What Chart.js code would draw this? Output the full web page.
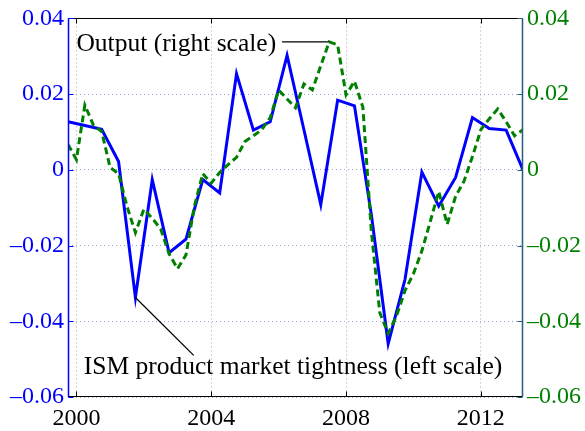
<!DOCTYPE html>
<html>
<head>
<meta charset="utf-8">
<script src="https://cdn.jsdelivr.net/npm/chart.js@4"></script>
<style>
  html, body { margin: 0; padding: 0; background: #fff; }
</style>
</head>
<body>
<canvas id="graph" width="585" height="431"></canvas>
<script>
// quarterly output (right scale)
const outputDates = [1999.75, 2000, 2000.25, 2000.5, 2000.75, 2001, 2001.25, 2001.5, 2001.75,
  2002, 2002.25, 2002.5, 2002.75, 2003, 2003.25, 2003.5, 2003.75, 2004, 2004.25, 2004.5, 2004.75,
  2005, 2005.25, 2005.5, 2005.75, 2006, 2006.25, 2006.5, 2006.75, 2007, 2007.25, 2007.5, 2007.75,
  2008, 2008.25, 2008.5, 2008.75, 2009, 2009.25, 2009.5, 2009.75, 2010, 2010.25, 2010.5, 2010.75,
  2011, 2011.25, 2011.5, 2011.75, 2012, 2012.25, 2012.5, 2012.75, 2013, 2013.25];
const outputValues = [0.0067, 0.0027, 0.0171, 0.0119, 0.0101, 0.0006, -0.0010, -0.0096, -0.0166,
  -0.0104, -0.0128, -0.0156, -0.0222, -0.0261, -0.0225, -0.0096, -0.0010, -0.0035, -0.0007, 0.0014, 0.0033,
  0.0075, 0.0090, 0.0106, 0.0138, 0.0211, 0.0187, 0.0164, 0.0227, 0.0211, 0.0275, 0.0338, 0.0330,
  0.0198, 0.0234, 0.0165, -0.0162, -0.0377, -0.0432, -0.0385, -0.0319, -0.0274, -0.0214, -0.0136, -0.0057,
  -0.0144, -0.0070, -0.0030, 0.0035, 0.0106, 0.0135, 0.0161, 0.0127, 0.0090, 0.0106];

// half-yearly ISM tightness (left scale)
const ismDates = [1999.75, 2000.25, 2000.75, 2001.25, 2001.75, 2002.25, 2002.75, 2003.25, 2003.75,
  2004.25, 2004.75, 2005.25, 2005.75, 2006.25, 2006.75, 2007.25, 2007.75, 2008.25, 2008.75,
  2009.25, 2009.75, 2010.25, 2010.75, 2011.25, 2011.75, 2012.25, 2012.75, 2013.25];
const ismValues = [0.0127, 0.0117, 0.0107, 0.0022, -0.0337, -0.0026, -0.0219, -0.0183, -0.0026,
  -0.0061, 0.0254, 0.0105, 0.0127, 0.0302, 0.0106, -0.0092, 0.0184, 0.0169, -0.0118,
  -0.0459, -0.0289, -0.0006, -0.0096, -0.0020, 0.0138, 0.0109, 0.0105, 0.0000];

const yearTicks = [2000, 2004, 2008, 2012];
const valueTicks = [-0.06, -0.04, -0.02, 0, 0.02, 0.04];

const FONT = "'Liberation Serif', 'Times New Roman', serif";
const BLUE = '#0000ff';
const GREEN = '#008000';
const RIGHT_AXIS = '#235e7c';

function fmt(v) {
  if (Math.abs(v) < 1e-9) return '0';
  return (v < 0 ? '\u2013' : '') + Math.abs(v).toFixed(2);
}

function pts(xs, ys) {
  return xs.map((x, i) => ({ x: x, y: ys[i] }));
}

// frame, inward ticks and the two text notes
const extras = {
  id: 'extras',
  afterDatasetsDraw(chart) {
    const { ctx, chartArea: a, scales } = chart;
    const x = scales.x, yl = scales.y, yr = scales.y2;
    ctx.save();
    ctx.lineWidth = 1;
    const line = (x1, y1, x2, y2, c) => {
      ctx.strokeStyle = c;
      ctx.beginPath(); ctx.moveTo(x1, y1); ctx.lineTo(x2, y2); ctx.stroke();
    };
    const L = Math.round(a.left) + 0.5, R = Math.round(a.right) - 0.5;
    const T = Math.round(a.top) + 0.5, B = Math.round(a.bottom) - 0.5;
    line(L, T, R, T, '#000');
    line(L, B, R, B, '#000');
    valueTicks.forEach(v => {
      const py = Math.round(yl.getPixelForValue(v)) + 0.5;
      line(L, py, L + 5, py, BLUE);
      line(R, py, R - 5, py, RIGHT_AXIS);
    });
    yearTicks.forEach(v => {
      const px = Math.round(x.getPixelForValue(v)) + 0.5;
      line(px, B, px, B - 5, '#000');
      line(px, T, px, T + 5, '#000');
    });
    ctx.lineWidth = 1.5;
    line(L, a.top, L, a.bottom, BLUE);
    line(R, a.top, R, a.bottom, RIGHT_AXIS);

    // notes
    ctx.lineWidth = 1.3;
    ctx.fillStyle = '#000';
    ctx.font = '25.5px ' + FONT;
    ctx.textBaseline = 'middle';
    ctx.textAlign = 'left';
    ctx.fillText('Output (right scale)', x.getPixelForValue(2000.0), yr.getPixelForValue(0.0331));
    line(x.getPixelForValue(2006.1), yr.getPixelForValue(0.0338),
         x.getPixelForValue(2007.5), yr.getPixelForValue(0.0338), '#000');
    ctx.fillText('ISM product market tightness (left scale)', x.getPixelForValue(2000.22), yl.getPixelForValue(-0.0522));
    line(x.getPixelForValue(2001.75), yl.getPixelForValue(-0.0337),
         x.getPixelForValue(2003.48), yl.getPixelForValue(-0.049), '#000');
    ctx.restore();
  }
};

const graph = document.getElementById('graph').getContext('2d');
const myChart = new Chart(graph, {
  type: 'line',
  data: {
    datasets: [{
      label: 'Output (right scale)',
      data: pts(outputDates, outputValues),
      yAxisID: 'y2',
      borderColor: GREEN,
      borderWidth: 3,
      borderDash: [7, 4],
      borderCapStyle: 'butt',
      pointRadius: 0,
      tension: 0
    }, {
      label: 'ISM product market tightness (left scale)',
      data: pts(ismDates, ismValues),
      yAxisID: 'y',
      borderColor: BLUE,
      borderWidth: 3,
      borderJoinStyle: 'miter',
      pointRadius: 0,
      tension: 0
    }]
  },
  options: {
    responsive: false,
    animation: false,
    devicePixelRatio: 1,
    layout: { padding: { top: 16, left: 0, right: 0, bottom: 0 } },
    plugins: { legend: { display: false }, tooltip: { enabled: false } },
    scales: {
      x: {
        type: 'linear',
        min: 1999.75,
        max: 2013.25,
        afterBuildTicks: s => { s.ticks = yearTicks.map(v => ({ value: v })); },
        afterFit: s => { s.height = 34; },
        border: { display: false, dash: [1, 3] },
        grid: { color: '#a8a8a8', drawTicks: false },
        ticks: {
          autoSkip: false, maxRotation: 0, padding: 7,
          color: '#000',
          font: { family: FONT, size: 24 },
          callback: v => String(v)
        }
      },
      y: {
        position: 'left',
        min: -0.06,
        max: 0.04,
        afterBuildTicks: s => { s.ticks = valueTicks.map(v => ({ value: v })); },
        afterFit: s => { s.width = 68; },
        border: { display: false, dash: [1, 3] },
        grid: { color: 'rgba(70,110,190,0.6)', drawTicks: false },
        ticks: {
          padding: 4, color: BLUE,
          font: { family: FONT, size: 24 },
          callback: v => fmt(v)
        }
      },
      y2: {
        position: 'right',
        min: -0.06,
        max: 0.04,
        afterBuildTicks: s => { s.ticks = valueTicks.map(v => ({ value: v })); },
        afterFit: s => { s.width = 62; },
        border: { display: false },
        grid: { drawOnChartArea: false, drawTicks: false },
        ticks: {
          padding: 4, color: GREEN,
          font: { family: FONT, size: 24 },
          callback: v => fmt(v)
        }
      }
    }
  },
  plugins: [extras]
});
</script>
</body>
</html>
